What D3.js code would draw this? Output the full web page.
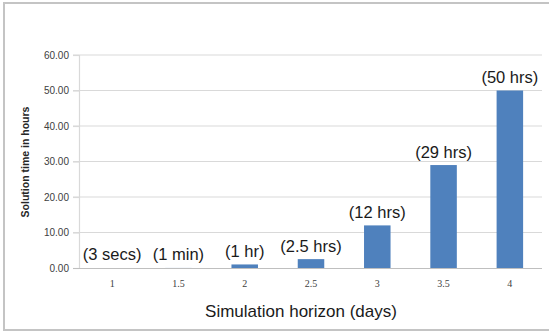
<!DOCTYPE html>
<html>
<head>
<meta charset="utf-8">
<script src="https://cdn.jsdelivr.net/npm/d3@7"></script>
<style>
  html, body { margin: 0; padding: 0; background: #fff; }
  svg { display: block; }
</style>
</head>
<body>
<svg id="chart" width="549" height="333"></svg>
<script>
// Simulation horizon (days) on the x axis
const horizons = ["1", "1.5", "2", "2.5", "3", "3.5", "4"];
// Solution time in hours for each horizon
const solveHours = [3 / 3600, 1 / 60, 1, 2.5, 12, 29, 50];
// Text shown above each bar
const timeLabels = ["(3 secs)", "(1 min)", "(1 hr)", "(2.5 hrs)", "(12 hrs)", "(29 hrs)", "(50 hrs)"];
// Y axis ticks
const yTicks = [0, 10, 20, 30, 40, 50, 60];

const svg = d3.select("#chart");

// outer frame
svg.append("rect")
  .attr("x", 4).attr("y", 3)
  .attr("width", 600).attr("height", 327)
  .attr("fill", "#fff")
  .attr("stroke", "#c4c4c4")
  .attr("stroke-width", 2);

const x = d3.scaleBand()
  .domain(horizons)
  .range([79, 543])
  .paddingInner(0.6)
  .paddingOuter(0.3);

const y = d3.scaleLinear()
  .domain([0, 60])
  .range([268, 55]);

// horizontal gridlines
svg.append("g")
  .selectAll("line")
  .data(yTicks.filter(d => d > 0))
  .join("line")
  .attr("x1", 73).attr("x2", 542)
  .attr("y1", d => y(d)).attr("y2", d => y(d))
  .attr("stroke", "#d9d9d9")
  .attr("stroke-width", 1.2);

// y axis
const yAxis = svg.append("g")
  .attr("transform", "translate(79,0)")
  .call(d3.axisLeft(y).tickValues(yTicks).tickFormat(d3.format(".2f")).tickSize(6).tickPadding(4));
yAxis.select(".domain").attr("stroke", "#d9d9d9").attr("stroke-width", 1.2);
yAxis.selectAll(".tick line").attr("stroke", "#d9d9d9").attr("stroke-width", 1.2);
yAxis.selectAll(".tick text")
  .attr("fill", "#404040")
  .style("font-family", "'Liberation Sans', Arial, sans-serif")
  .style("font-size", "10px");

// bars
svg.append("g")
  .selectAll("rect")
  .data(horizons)
  .join("rect")
  .attr("x", d => x(d))
  .attr("width", x.bandwidth())
  .attr("y", (d, i) => y(solveHours[i]))
  .attr("height", (d, i) => y(0) - y(solveHours[i]))
  .attr("fill", "#4f81bd");

// x axis
const xAxis = svg.append("g")
  .attr("transform", `translate(0,${y(0)})`)
  .call(d3.axisBottom(x).tickSize(0).tickPadding(12));
xAxis.select(".domain").attr("stroke", "#bfbfbf").attr("stroke-width", 1.2)
  .attr("d", "M73,0.5H542");
xAxis.selectAll(".tick text")
  .attr("fill", "#404040")
  .style("font-family", "'Liberation Serif', 'Times New Roman', serif")
  .style("font-size", "10px");

// value labels
svg.append("g")
  .selectAll("text")
  .data(horizons)
  .join("text")
  .attr("x", d => x(d) + x.bandwidth() / 2)
  .attr("y", (d, i) => y(solveHours[i]) - 7.5)
  .attr("text-anchor", "middle")
  .attr("fill", "#1a1a1a")
  .style("font-family", "'Liberation Sans', Arial, sans-serif")
  .style("font-size", "16.5px")
  .text((d, i) => timeLabels[i]);

// axis titles
svg.append("text")
  .attr("x", 301).attr("y", 317)
  .attr("text-anchor", "middle")
  .attr("fill", "#1a1a1a")
  .style("font-family", "'Liberation Sans', Arial, sans-serif")
  .style("font-size", "17px")
  .text("Simulation horizon (days)");

svg.append("text")
  .attr("transform", "translate(29,162) rotate(-90)")
  .attr("text-anchor", "middle")
  .attr("fill", "#262626")
  .style("font-family", "'Liberation Sans', Arial, sans-serif")
  .style("font-size", "10.5px")
  .style("font-weight", "bold")
  .text("Solution time in hours");
</script>
</body>
</html>
